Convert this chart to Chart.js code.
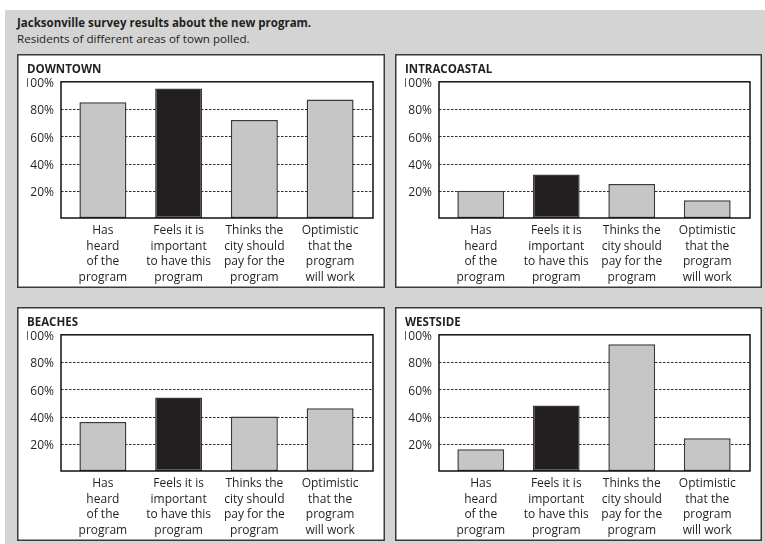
<!DOCTYPE html>
<html>
<head>
<meta charset="utf-8">
<script src="https://cdn.jsdelivr.net/npm/chart.js@4.4.1/dist/chart.umd.min.js"></script>
<style>
  html, body { margin: 0; padding: 0; background: #ffffff; }
  body { width: 765px; height: 544px; position: relative; overflow: hidden; font-family: "Open Sans", sans-serif; }
  #bg { position: absolute; left: 5px; top: 10px; width: 760px; height: 534px; background: #d4d4d4; }
  #title { position: absolute; left: 17px; top: 15px; font-size: 11.5px; font-weight: bold; color: #231f20; white-space: nowrap; }
  #subtitle { position: absolute; left: 17px; top: 31px; font-size: 11.6px; color: #231f20; white-space: nowrap; }
  canvas { position: absolute; }
</style>
</head>
<body>
<div id="bg"></div>
<div id="title">Jacksonville survey results about the new program.</div>
<div id="subtitle">Residents of different areas of town polled.</div>
<canvas id="c1" width="368" height="234" style="left:17px;top:54px"></canvas>
<canvas id="c2" width="367" height="234" style="left:395px;top:54px"></canvas>
<canvas id="c3" width="368" height="234" style="left:17px;top:307px"></canvas>
<canvas id="c4" width="367" height="234" style="left:395px;top:307px"></canvas>
<script>
// ---- data ----
const categories = [
  ["Has", "heard", "of the", "program"],
  ["Feels it is", "important", "to have this", "program"],
  ["Thinks the", "city should", "pay for the", "program"],
  ["Optimistic", "that the", "program", "will work"]
];
const panelTitles = ["DOWNTOWN", "INTRACOASTAL", "BEACHES", "WESTSIDE"];
const downtown = [85, 95, 72, 87];
const intracoastal = [20, 32, 25, 13];
const beaches = [36, 54, 40, 46];
const westside = [16, 48, 93, 24];
const gridValues = [20, 40, 60, 80];

const FONT = '"Open Sans", sans-serif';
const GRAY = '#c6c6c6';
const DARK = '#231f20';

const framePlugin = {
  id: 'frame',
  beforeDraw(chart) {
    const ctx = chart.ctx;
    ctx.save();
    ctx.fillStyle = '#ffffff';
    ctx.fillRect(0, 0, chart.width, chart.height);
    ctx.strokeStyle = '#3a3a3a';
    ctx.lineWidth = 1.5;
    ctx.strokeRect(0.75, 0.75, chart.width - 1.5, chart.height - 1.5);
    ctx.restore();
  },
  beforeDatasetsDraw(chart) {
    const ctx = chart.ctx, a = chart.chartArea, y = chart.scales.y;
    ctx.save();
    ctx.strokeStyle = '#2a2a2a';
    ctx.lineWidth = 1;
    ctx.setLineDash([2.5, 1.5]);
    gridValues.forEach(v => {
      const py = Math.round(y.getPixelForValue(v)) + 0.5;
      ctx.beginPath();
      ctx.moveTo(a.left - 4, py);
      ctx.lineTo(a.right + 5, py);
      ctx.stroke();
    });
    ctx.restore();
  },
  afterDatasetsDraw(chart) {
    const ctx = chart.ctx, a = chart.chartArea;
    ctx.save();
    ctx.strokeStyle = '#111111';
    ctx.lineWidth = 1.5;
    ctx.strokeRect(a.left - 4, a.top, (a.right + 5) - (a.left - 4), a.bottom - a.top);
    ctx.restore();
  }
};

function makeChart(id, title, values) {
  new Chart(document.getElementById(id), {
    type: 'bar',
    data: {
      labels: categories,
      datasets: [{
        data: values,
        backgroundColor: [GRAY, DARK, GRAY, GRAY],
        borderColor: '#3a3a3a',
        borderWidth: 1.5,
        borderSkipped: false,
        barPercentage: 0.62,
        categoryPercentage: 1
      }]
    },
    options: {
      responsive: false,
      animation: false,
      layout: { padding: { left: 10, right: 17, top: 0, bottom: 0 } },
      plugins: {
        legend: { display: false },
        tooltip: { enabled: false },
        title: {
          display: true,
          text: title,
          align: 'start',
          color: DARK,
          font: { family: FONT, size: 11.5, weight: 'bold' },
          padding: { top: 9, bottom: 5 }
        }
      },
      scales: {
        x: {
          offset: true,
          grid: { display: false, drawTicks: false },
          border: { display: false },
          ticks: {
            color: DARK,
            font: { family: FONT, size: 12, lineHeight: 1.29 },
            padding: 5,
            maxRotation: 0,
            autoSkip: false
          },
          afterFit(s) { s.height = 70; }
        },
        y: {
          min: 0, max: 100,
          grid: { display: false, drawTicks: false },
          border: { display: false },
          ticks: {
            stepSize: 20,
            color: DARK,
            padding: 11,
            labelOffset: 2,
            font: { family: FONT, size: 12 },
            callback: v => v === 0 ? '' : v + '%'
          },
          afterFit(s) { s.width = 38; }
        }
      }
    },
    plugins: [framePlugin]
  });
}

makeChart('c1', panelTitles[0], downtown);
makeChart('c2', panelTitles[1], intracoastal);
makeChart('c3', panelTitles[2], beaches);
makeChart('c4', panelTitles[3], westside);
</script>
</body>
</html>
